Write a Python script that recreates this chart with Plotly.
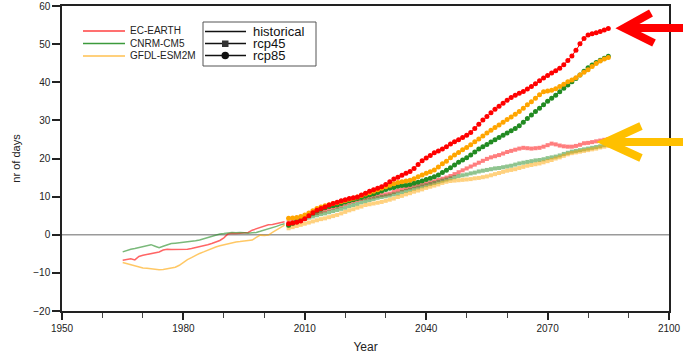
import plotly.graph_objects as go

# ---------------- data ----------------
hist_years = list(range(1965, 2006))
scen_years = list(range(2006, 2086))

ec_hist = [-6.7, -6.4, -6.3, -6.6, -5.7, -5.4, -5.2, -5.0, -4.8, -4.5,
           -4.0, -3.8, -3.9, -3.9, -3.8, -3.9, -3.8, -3.6, -3.3, -3.2,
           -2.9, -2.6, -2.3, -2.0, -1.5, -0.8, 0.2, 0.4, 0.3, 0.4,
           0.5, 0.6, 1.2, 1.5, 1.9, 2.3, 2.6, 2.7, 2.9, 3.2, 3.4]
cnrm_hist = [-4.5, -4.1, -3.8, -3.6, -3.3, -3.1, -2.8, -2.6, -3.0, -3.4,
             -3.0, -2.6, -2.3, -2.2, -2.1, -2.0, -1.9, -1.7, -1.6, -1.4,
             -1.1, -0.9, -0.5, -0.1, 0.2, 0.3, 0.5, 0.6, 0.5, 0.6,
             0.5, 0.4, 0.5, 0.6, 0.9, 1.2, 1.4, 1.8, 2.2, 2.6, 2.9]
gfdl_hist = [-7.3, -7.6, -7.9, -8.2, -8.5, -8.7, -8.8, -9.0, -9.1, -9.2,
             -9.1, -8.9, -8.9, -8.5, -8.0, -7.2, -6.5, -6.0, -5.4, -4.9,
             -4.5, -4.0, -3.6, -3.2, -2.9, -2.6, -2.3, -2.1, -1.9, -1.8,
             -1.6, -1.5, -1.4, -0.7, -0.1, -0.2, -0.1, 0.6, 1.2, 1.9, 2.5]

ec_rcp85 = [2.9, 3.1, 3.3, 3.6, 4.2, 5.0, 5.8, 6.4, 6.9, 7.3,
            7.8, 8.2, 8.5, 8.9, 9.2, 9.5, 9.7, 9.9, 10.4, 10.9,
            11.4, 11.8, 12.2, 12.6, 13.2, 13.9, 14.6, 15.1, 15.6, 16.1,
            16.6, 17.4, 18.4, 19.4, 20.1, 20.8, 21.5, 22.0, 22.5, 23.1,
            23.8, 24.4, 24.9, 25.5, 26.1, 26.8, 27.9, 29.0, 30.1, 31.0,
            32.0, 32.9, 33.7, 34.5, 35.3, 36.0, 36.6, 37.1, 37.6, 38.2,
            38.9, 39.6, 40.4, 41.1, 41.8, 42.4, 43.0, 43.7, 44.6, 45.7,
            46.9, 48.4, 50.1, 51.5, 52.4, 52.7, 53.0, 53.3, 53.7, 54.1]
gfdl_rcp85 = [4.3, 4.4, 4.5, 4.8, 5.2, 5.7, 6.3, 6.9, 7.3, 7.6,
              7.9, 8.2, 8.4, 8.7, 9.0, 9.3, 9.6, 9.9, 10.3, 10.7,
              11.0, 11.4, 11.8, 12.2, 12.6, 13.0, 13.4, 13.7, 13.9, 14.1,
              14.3, 14.7, 15.2, 15.7, 16.1, 16.5, 17.0, 17.8, 18.6, 19.3,
              20.2, 20.9, 21.6, 22.3, 22.9, 23.6, 24.4, 25.1, 25.9, 26.7,
              27.4, 28.1, 28.8, 29.5, 30.2, 30.9, 31.6, 32.3, 33.2, 34.1,
              34.9, 35.8, 36.7, 37.5, 37.7, 37.9, 38.3, 38.9, 39.5, 40.1,
              40.6, 41.2, 41.9, 42.6, 43.3, 44.1, 44.9, 45.6, 46.1, 46.5]
cnrm_rcp85 = [2.5, 3.0, 3.5, 4.1, 4.6, 5.1, 5.7, 6.2, 6.7, 7.1,
              7.4, 7.6, 7.8, 8.2, 8.6, 8.9, 9.2, 9.5, 9.8, 10.1,
              10.4, 10.7, 11.1, 11.5, 11.9, 12.2, 12.4, 12.7, 12.9, 13.0,
              13.2, 13.5, 13.8, 14.1, 14.5, 14.8, 15.2, 15.7, 16.3, 16.9,
              17.6, 18.3, 19.0, 19.6, 20.2, 20.9, 21.7, 22.5, 23.1, 23.7,
              24.3, 24.9, 25.5, 26.1, 26.7, 27.3, 27.9, 28.6, 29.5, 30.5,
              31.4, 32.3, 33.2, 34.1, 35.0, 35.8, 36.6, 37.5, 38.4, 39.3,
              40.1, 41.0, 41.9, 42.9, 43.8, 44.5, 45.2, 45.8, 46.3, 46.8]

ec_rcp45 = [3.3, 3.6, 3.9, 4.3, 4.6, 5.0, 5.4, 5.7, 6.1, 6.4,
            6.8, 7.1, 7.4, 7.7, 8.1, 8.5, 8.8, 9.1, 9.4, 9.6,
            9.8, 10.0, 10.2, 10.4, 10.6, 10.8, 11.2, 11.6, 11.9, 12.2,
            12.4, 12.7, 12.9, 13.2, 13.5, 13.7, 14.0, 14.4, 14.7, 15.0,
            15.4, 15.9, 16.4, 16.9, 17.4, 17.9, 18.4, 18.9, 19.4, 19.9,
            20.3, 20.6, 20.9, 21.3, 21.7, 22.0, 22.3, 22.6, 22.8, 22.7,
            22.6, 22.7, 22.8, 23.1, 23.5, 23.9, 23.7, 23.4, 23.2, 23.1,
            23.1, 23.3, 23.6, 24.0, 24.1, 24.3, 24.5, 24.7, 24.9, 25.1]
cnrm_rcp45 = [2.5, 2.9, 3.3, 3.7, 4.1, 4.5, 4.8, 5.1, 5.4, 5.6,
              5.9, 6.2, 6.5, 6.8, 7.1, 7.5, 7.8, 8.1, 8.5, 8.8,
              9.1, 9.4, 9.7, 9.9, 10.1, 10.3, 10.6, 10.8, 11.2, 11.5,
              11.8, 12.1, 12.4, 12.7, 13.0, 13.3, 13.6, 13.9, 14.2, 14.5,
              14.8, 15.1, 15.4, 15.6, 15.8, 16.1, 16.3, 16.6, 16.8, 17.0,
              17.2, 17.4, 17.5, 17.7, 17.9, 18.1, 18.4, 18.7, 18.9, 19.1,
              19.3, 19.5, 19.6, 19.8, 20.1, 20.3, 20.5, 20.8, 21.2, 21.5,
              21.8, 22.0, 22.2, 22.4, 22.6, 22.8, 23.0, 23.2, 23.5, 23.7]
gfdl_rcp45 = [1.7, 2.0, 2.3, 2.6, 2.9, 3.2, 3.5, 3.8, 4.1, 4.3,
              4.6, 4.9, 5.2, 5.6, 6.0, 6.4, 6.7, 7.1, 7.4, 7.8,
              8.0, 8.2, 8.4, 8.6, 8.9, 9.2, 9.5, 9.9, 10.2, 10.6,
              10.9, 11.3, 11.6, 11.9, 12.3, 12.6, 12.9, 13.2, 13.6, 13.9,
              14.1, 14.2, 14.3, 14.4, 14.5, 14.6, 14.8, 14.9, 15.1, 15.3,
              15.6, 15.9, 16.2, 16.5, 16.8, 17.0, 17.2, 17.5, 17.8, 18.1,
              18.3, 18.5, 18.7, 19.0, 19.3, 19.6, 20.0, 20.3, 20.7, 21.1,
              21.4, 21.6, 21.8, 22.0, 22.2, 22.4, 22.6, 22.9, 23.1, 23.3]

models = ["EC-EARTH", "CNRM-CM5", "GFDL-ESM2M"]
scenarios = ["historical", "rcp45", "rcp85"]
colors = {"EC-EARTH": "#FF0000", "CNRM-CM5": "#228B22", "GFDL-ESM2M": "#FFA500"}

series = {
    "EC-EARTH": (ec_hist, ec_rcp45, ec_rcp85),
    "CNRM-CM5": (cnrm_hist, cnrm_rcp45, cnrm_rcp85),
    "GFDL-ESM2M": (gfdl_hist, gfdl_rcp45, gfdl_rcp85),
}

# ---------------- figure ----------------
W, H = 683, 361
ML, MR, MT, MB = 62, 14, 6, 50
PW, PH = W - ML - MR, H - MT - MB


def px(x):
    return (x - ML) / PW


def py(y):
    return (H - MB - y) / PH


fig = go.Figure()

# zero line
fig.add_hline(y=0, line=dict(color="#9a9a9a", width=1.5), layer="below")

# historical
for m in models:
    h, r45, r85 = series[m]
    fig.add_trace(go.Scatter(x=hist_years, y=h, mode="lines",
                             line=dict(color=colors[m], width=1.5),
                             opacity=0.6, showlegend=False, name=m + " historical"))
# rcp45
for m in models:
    h, r45, r85 = series[m]
    fig.add_trace(go.Scatter(x=scen_years, y=r45, mode="lines+markers",
                             line=dict(color=colors[m], width=1.8),
                             marker=dict(symbol="square", size=4, color=colors[m]),
                             opacity=0.5, showlegend=False, name=m + " rcp45"))
# rcp85
for m in ["CNRM-CM5", "GFDL-ESM2M", "EC-EARTH"]:
    h, r45, r85 = series[m]
    fig.add_trace(go.Scatter(x=scen_years, y=r85, mode="lines+markers",
                             line=dict(color=colors[m], width=1),
                             marker=dict(symbol="circle", size=5, color=colors[m]),
                             showlegend=False, name=m + " rcp85"))

shapes = []
annotations = []

# ----- legend 1 (models) -----
shapes.append(dict(type="rect", xref="paper", yref="paper",
                   x0=px(81), x1=px(197), y0=py(22), y1=py(64),
                   line=dict(color="#888888", width=1)))
leg_rows = [31, 43.5, 56]
leg_colors = ["#FF4040", "#3C9A3C", "#FFC050"]
for yy, m, c in zip(leg_rows, models, leg_colors):
    shapes.append(dict(type="line", xref="paper", yref="paper",
                       x0=px(83), x1=px(125), y0=py(yy), y1=py(yy),
                       line=dict(color=c, width=1.5)))
    annotations.append(dict(xref="paper", yref="paper", x=px(128), y=py(yy),
                            text=m, showarrow=False, xanchor="left", yanchor="middle",
                            font=dict(family="Liberation Sans, Arial", size=10, color="#222")))

# ----- legend 2 (scenarios) -----
shapes.append(dict(type="rect", xref="paper", yref="paper",
                   x0=px(203), x1=px(316), y0=py(22), y1=py(66),
                   line=dict(color="#555555", width=1)))
leg2_rows = [31.5, 43.5, 55.5]
for yy, s in zip(leg2_rows, scenarios):
    shapes.append(dict(type="line", xref="paper", yref="paper",
                       x0=px(205), x1=px(246), y0=py(yy), y1=py(yy),
                       line=dict(color="#111", width=1.5)))
    annotations.append(dict(xref="paper", yref="paper", x=px(251), y=py(yy),
                            text=s, showarrow=False, xanchor="left", yanchor="middle",
                            font=dict(family="Liberation Sans, Arial", size=13, color="#111")))
shapes.append(dict(type="rect", xref="paper", yref="paper",
                   x0=px(222), x1=px(228.5), y0=py(40.5), y1=py(47),
                   fillcolor="#333", line=dict(width=0)))
shapes.append(dict(type="circle", xref="paper", yref="paper",
                   x0=px(221.5), x1=px(229), y0=py(51.8), y1=py(59.3),
                   fillcolor="#111", line=dict(width=0)))

# ----- arrows -----
def arrow(tip, top, bot, end_x, color):
    path = (f"M {px(end_x)},{py(tip[1])} L {px(tip[0])},{py(tip[1])} "
            f"M {px(top[0])},{py(top[1])} L {px(tip[0])},{py(tip[1])} "
            f"L {px(bot[0])},{py(bot[1])}")
    return dict(type="path", xref="paper", yref="paper", path=path,
                line=dict(color=color, width=8), layer="above")

shapes.append(arrow((624, 28), (651, 13), (654, 43), 690, "#FF0000"))
shapes.append(arrow((606, 142), (641, 126), (641, 158), 690, "#FFC000"))

axis_common = dict(showline=True, linecolor="#222", linewidth=1.5, mirror=True,
                   showgrid=False, zeroline=False, ticks="outside", tickcolor="#222",
                   tickwidth=1.5, tickfont=dict(family="Liberation Sans, Arial", size=10, color="#222"))

fig.update_layout(
    width=W, height=H,
    margin=dict(l=ML, r=MR, t=MT, b=MB, autoexpand=False),
    paper_bgcolor="white", plot_bgcolor="white",
    showlegend=False,
    shapes=shapes, annotations=annotations,
    xaxis=dict(range=[1950, 2100], tick0=1950, dtick=30, ticklen=7,
               minor=dict(dtick=10, tick0=1950, ticks="outside", ticklen=5, tickcolor="#444", tickwidth=1),
               title=dict(text="Year", standoff=10,
                          font=dict(family="Liberation Sans, Arial", size=12, color="#222")),
               **axis_common),
    yaxis=dict(range=[-20, 60], tick0=-20, dtick=10, ticklen=8,
               title=dict(text="nr of days", standoff=10,
                          font=dict(family="Liberation Sans, Arial", size=11, color="#222")),
               **axis_common),
)

fig.write_html("out.html", config={"displayModeBar": False},
               post_script="document.body.style.margin='0';document.body.style.overflow='hidden';")
